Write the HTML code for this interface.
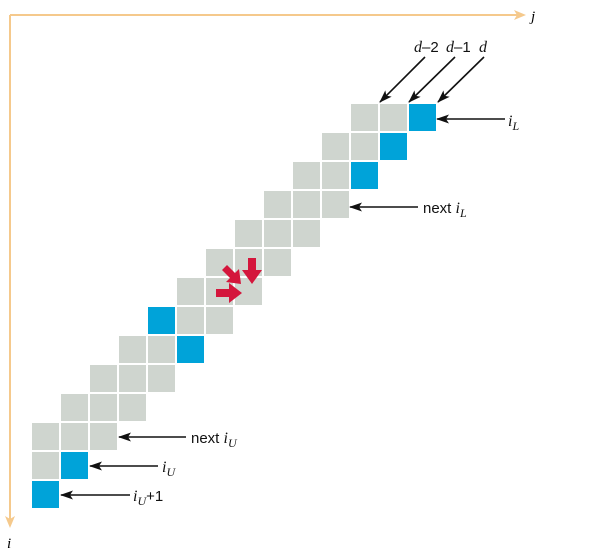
<!DOCTYPE html>
<html><head><meta charset="utf-8"><style>
body{margin:0;background:#fff;}
svg{display:block;font-family:"Liberation Sans",sans-serif;}
.it{font-family:"Liberation Serif",serif;font-style:italic;}
</style></head><body>
<svg width="593" height="557" viewBox="0 0 593 557">
<defs>
<marker id="ah" markerWidth="13" markerHeight="9" refX="12" refY="4.5" orient="auto" markerUnits="userSpaceOnUse"><path d="M0,0 L13,4.5 L0,9 L3,4.5z" fill="#111"/></marker>
</defs>
<g>
<line x1="10" y1="15" x2="518" y2="15" stroke="#f5c98c" stroke-width="2"/>
<path d="M526,15 L514,10 L517,15 L514,20z" fill="#f5c98c"/>
<text x="531" y="21" class="it" font-size="15">j</text>
</g>
<g>
<line x1="10" y1="15" x2="10" y2="520" stroke="#f5c98c" stroke-width="2"/>
<path d="M10,528 L5,516 L10,519 L15,516z" fill="#f5c98c"/>
<text x="7" y="548" class="it" font-size="15">i</text>
</g>
<g id="cells"></g>
<g fill="#d4163c">
<path d="M216,289 L229,289 L229,283 L242,293 L229,303 L229,297 L216,297z"/>
<path d="M248,258 L256,258 L256,270 L262,270 L252,284 L242,270 L248,270z"/>
<path d="M222,270 L227,265 L235,273 L239,269 L241,284 L226,282 L230,278z"/>
</g>
<g stroke="#111" stroke-width="1.6">
<line x1="425" y1="57" x2="380" y2="102" marker-end="url(#ah)"/>
<line x1="455" y1="57" x2="409" y2="102" marker-end="url(#ah)"/>
<line x1="484" y1="57" x2="438" y2="102" marker-end="url(#ah)"/>
<line x1="505" y1="119" x2="437" y2="119" marker-end="url(#ah)"/>
<line x1="418" y1="207" x2="350" y2="207" marker-end="url(#ah)"/>
<line x1="186" y1="437" x2="119" y2="437" marker-end="url(#ah)"/>
<line x1="158" y1="466" x2="90" y2="466" marker-end="url(#ah)"/>
<line x1="130" y1="495" x2="61" y2="495" marker-end="url(#ah)"/>
</g>
<g font-size="15" fill="#111">
<text x="414" y="52"><tspan class="it" font-size="16">d</tspan>–2</text>
<text x="446" y="52"><tspan class="it" font-size="16">d</tspan>–1</text>
<text x="479" y="52" class="it" font-size="16">d</text>
<text x="508" y="126" class="it" font-size="16">i<tspan font-size="12" dy="4">L</tspan></text>
<text x="423" y="213">next <tspan class="it" font-size="16">i</tspan><tspan class="it" font-size="12" dy="4">L</tspan></text>
<text x="191" y="443">next <tspan class="it" font-size="16">i</tspan><tspan class="it" font-size="12" dy="4">U</tspan></text>
<text x="162" y="472" class="it" font-size="16">i<tspan font-size="12" dy="4">U</tspan></text>
<text x="133" y="501"><tspan class="it" font-size="16">i</tspan><tspan class="it" font-size="12" dy="4">U</tspan><tspan dy="-4">+1</tspan></text>
</g>
</svg>
<script>
const rows=[0,1,2,3,4,5,6,7,8,9,10,11,12,13];
const firstCol=[11,10,9,8,7,6,5,4,3,2,1,0,0,0];
const lastCol=[13,12,11,10,9,8,7,6,5,4,3,2,1,0];
const blueCells=[[0,13],[1,12],[2,11],[7,4],[8,5],[12,1],[13,0]];
const g=document.getElementById('cells');
const x0=32,y0=104,pitch=29,size=27;
rows.forEach(r=>{
  for(let c=firstCol[r];c<=lastCol[r];c++){
    const blue=blueCells.some(b=>b[0]===r&&b[1]===c);
    const el=document.createElementNS('http://www.w3.org/2000/svg','rect');
    el.setAttribute('x',x0+c*pitch);el.setAttribute('y',y0+r*pitch);
    el.setAttribute('width',size);el.setAttribute('height',size);
    el.setAttribute('fill',blue?'#00a3d9':'#cfd5cf');
    
    
    g.appendChild(el);
  }
});
</script>
</body></html>
